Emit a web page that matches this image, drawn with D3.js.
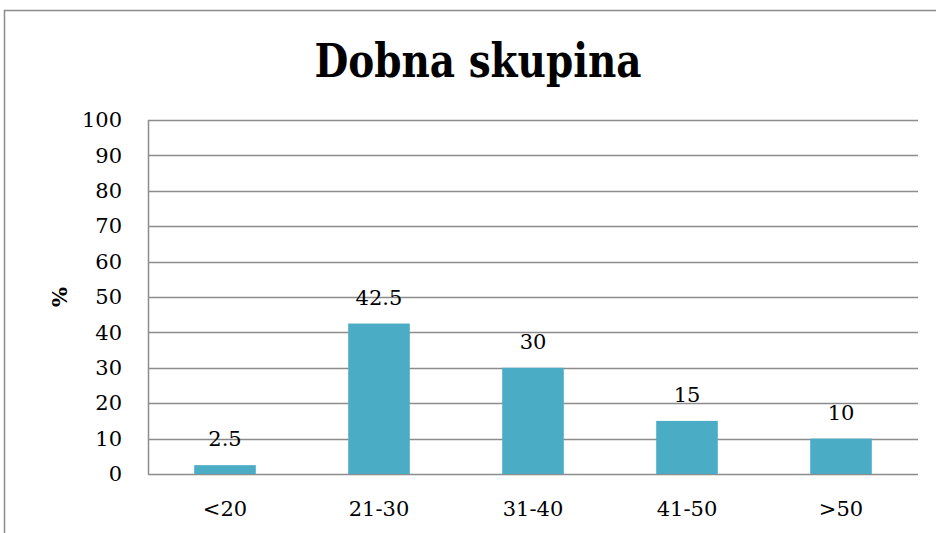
<!DOCTYPE html>
<html>
<head>
<meta charset="utf-8">
<script src="https://cdn.jsdelivr.net/npm/d3@7"></script>
<style>
	body { margin: 0; background: #fff; }
	svg { display: block; }
</style>
</head>
<body>
<script>
var categories = ['<20', '21-30', '31-40', '41-50', '>50'],
	values = [2.5, 42.5, 30, 15, 10],
	yTicks = [0, 10, 20, 30, 40, 50, 60, 70, 80, 90, 100];

var width = 936,
	height = 533,
	margin = {top: 120, right: 18, bottom: 59, left: 148},
	barColor = '#4bacc6',
	gridColor = '#8c8c8c',
	font = 'DejaVu Serif, Liberation Serif, serif';

var svg = d3.select('body')
	.append('svg')
	.attr('width', width)
	.attr('height', height);

// outer chart border (top and left only visible)
svg.append('path')
	.attr('d', 'M4.5,533 L4.5,10.5 L936,10.5')
	.attr('fill', 'none')
	.attr('stroke', '#8c8c8c')
	.attr('stroke-width', 1.5);

var x = d3.scaleBand()
	.domain(categories)
	.range([margin.left, width - margin.right])
	.paddingInner(0.6)
	.paddingOuter(0.3);

var y = d3.scaleLinear()
	.domain([0, 100])
	.range([height - margin.bottom, margin.top]);

// gridlines
svg.append('g')
	.selectAll('line')
	.data(yTicks)
	.enter()
	.append('line')
	.attr('x1', margin.left)
	.attr('x2', width - margin.right)
	.attr('y1', function(d) { return Math.round(y(d)) + 0.5; })
	.attr('y2', function(d) { return Math.round(y(d)) + 0.5; })
	.attr('stroke', gridColor)
	.attr('stroke-width', 1.5);

// y axis line
svg.append('line')
	.attr('x1', margin.left + 0.5)
	.attr('x2', margin.left + 0.5)
	.attr('y1', y(100))
	.attr('y2', y(0))
	.attr('stroke', gridColor)
	.attr('stroke-width', 1.5);

// y tick labels
var yAxis = svg.append('g')
	.attr('transform', 'translate(' + margin.left + ',0)')
	.call(d3.axisLeft(y).tickValues(yTicks).tickSize(0).tickPadding(26));
yAxis.select('.domain').remove();
yAxis.selectAll('text')
	.attr('font-family', font)
	.attr('font-size', 21)
	.attr('fill', '#000');

// x tick labels
var xAxis = svg.append('g')
	.attr('transform', 'translate(0,' + y(0) + ')')
	.call(d3.axisBottom(x).tickSize(0).tickPadding(27));
xAxis.select('.domain').remove();
xAxis.selectAll('text')
	.attr('font-family', font)
	.attr('font-size', 21)
	.attr('fill', '#000');

// bars
svg.append('g')
	.selectAll('rect')
	.data(values)
	.enter()
	.append('rect')
	.attr('x', function(d, i) { return x(categories[i]); })
	.attr('y', function(d) { return y(d); })
	.attr('width', x.bandwidth())
	.attr('height', function(d) { return y(0) - y(d); })
	.attr('fill', barColor);

// data labels
svg.append('g')
	.selectAll('text')
	.data(values)
	.enter()
	.append('text')
	.text(function(d) { return d; })
	.attr('x', function(d, i) { return x(categories[i]) + x.bandwidth() / 2; })
	.attr('y', function(d) { return y(d) - 19; })
	.attr('text-anchor', 'middle')
	.attr('font-family', font)
	.attr('font-size', 21)
	.attr('fill', '#000');

// title
svg.append('text')
	.text('Dobna skupina')
	.attr('x', 478)
	.attr('y', 77)
	.attr('text-anchor', 'middle')
	.attr('font-family', font)
	.attr('font-weight', 'bold')
	.attr('font-size', 47)
	.attr('textLength', 327)
	.attr('lengthAdjust', 'spacingAndGlyphs')
	.attr('fill', '#000');

// y axis title
svg.append('text')
	.text('%')
	.attr('transform', 'translate(67,297) rotate(-90)')
	.attr('text-anchor', 'middle')
	.attr('font-family', font)
	.attr('font-weight', 'bold')
	.attr('font-size', 21)
	.attr('fill', '#000');
</script>
</body>
</html>
